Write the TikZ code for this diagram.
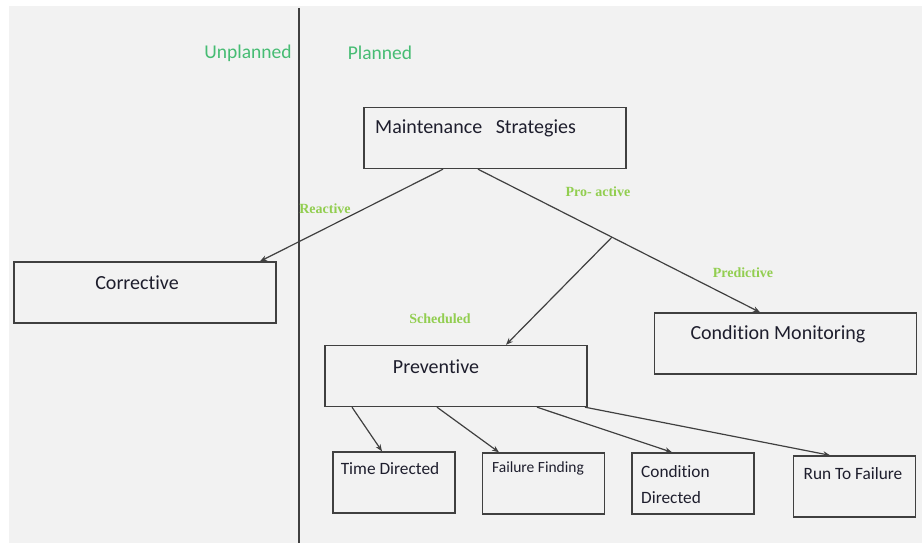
\documentclass[tikz,border=0pt]{standalone}
\usepackage{fontspec}
\setmainfont{Carlito}[Ligatures=NoCommon]
\newfontfamily\lblfont{Liberation Serif}
\usetikzlibrary{arrows.meta}
\definecolor{paper}{RGB}{242,242,242}
\definecolor{edge}{RGB}{64,64,64}
\definecolor{ink}{RGB}{30,30,45}
\definecolor{sidegreen}{RGB}{70,188,115}
\definecolor{tiegreen}{RGB}{146,206,80}

\tikzset{
  box/.style={draw=edge,line width=1.4pt,fill=paper,inner sep=0pt},
  bigbox/.style={box,minimum width=262pt,minimum height=61pt},
  smallbox/.style={box,minimum width=122pt,minimum height=61pt},
  boxtext/.style={text=ink,inner sep=0pt,font=\fontsize{20}{24}\selectfont},
  smalltext/.style={text=ink,inner sep=0pt,font=\fontsize{17.3}{20}\selectfont},
  side/.style={text=sidegreen,inner sep=0pt,font=\fontsize{19.5}{23}\selectfont},
  tie/.style={text=tiegreen,inner sep=0pt,font=\lblfont\bfseries\fontsize{14}{16}\selectfont},
  link/.style={draw=edge,line width=1.2pt,-{Stealth[length=7pt,width=5.5pt]}}
}

\begin{document}
\begin{tikzpicture}[x=1pt,y=1pt]
\useasboundingbox (0,0) rectangle (922,543);
% background
\path[fill=paper] (9,0) rectangle (922,537);
% divider between unplanned and planned
\coordinate (divtop) at (299,535);
\coordinate (divbot) at (299,0);
\path[draw=edge,line width=1.4pt] (divtop) -- (divbot);
\node[side] (unpl) at (248,490) {Unplanned};
\node[side] (plan) at (380,490) {Planned};
% boxes
\node[bigbox] (ms) at (495,405) {};
\node[boxtext,anchor=west] (mstext) at (375,415) {Maintenance\ \ \ Strategies};
\node[bigbox] (cor) at (145,250.5) {};
\node[boxtext] (cortext) at (137,260) {Corrective};
\node[bigbox] (cm) at (785.5,199.5) {};
\node[boxtext] (cmtext) at (778,209) {Condition Monitoring};
\node[bigbox] (prev) at (456,167) {};
\node[boxtext] (prevtext) at (436,176) {Preventive};
\node[smallbox] (td) at (394,60.5) {};
\node[smalltext] (tdtext) at (390,74) {Time Directed};
\node[smallbox] (ff) at (543.5,59.5) {};
\node[smalltext,font=\fontsize{15.5}{18}\selectfont] (fftext) at (538,75) {Failure Finding};
\node[smallbox] (cd) at (693,59.5) {};
\node[smalltext,anchor=west,align=left,font=\fontsize{17.3}{26}\selectfont] (cdtext) at (641,58) {Condition\\Directed};
\node[smallbox] (rf) at (854.5,56.5) {};
\node[smalltext] (rftext) at (853,69) {Run To Failure};
% connectors
\draw[link] ([xshift=-52pt]ms.south) -- ([xshift=115pt]cor.north);
\draw[link] ([xshift=-17pt]ms.south) -- coordinate[pos=0.475] (fork) ([xshift=-25.5pt]cm.north);
\draw[link] (fork) -- ([xshift=50pt]prev.north);
\draw[link] ([xshift=-104pt]prev.south) -- ([xshift=-12pt]td.north);
\draw[link] ([xshift=-19pt]prev.south) -- ([xshift=-44.5pt]ff.north);
\draw[link] ([xshift=81pt]prev.south) -- ([xshift=-21pt]cd.north);
\draw[link] ([xshift=129pt]prev.south) -- ([xshift=-24.5pt]rf.north);
% branch labels
\node[tie] (reac) at (325,334) {Reactive};
\node[tie] (proa) at (598,351) {Pro- active};
\node[tie] (pred) at (743,270) {Predictive};
\node[tie] (sched) at (440,224) {Scheduled};
\end{tikzpicture}
\end{document}
